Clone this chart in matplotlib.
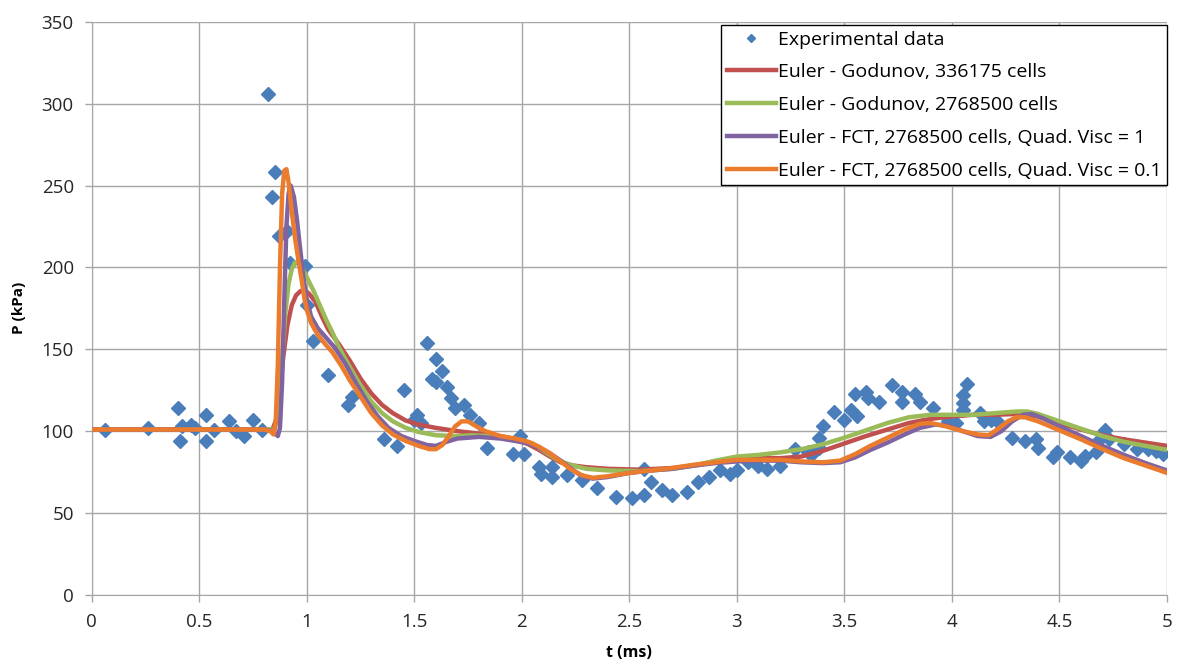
#!/usr/bin/env python3
##
# Pressure history: experiment vs. Euler solvers
##

import matplotlib
matplotlib.use('Agg')
import matplotlib.pyplot as plt

plt.rcParams['font.family'] = ['Open Sans', 'DejaVu Sans']

# experimental points (t in ms, P in kPa)
exp_t = [0.06, 0.26, 0.40, 0.41, 0.42, 0.46, 0.48, 0.53, 0.53, 0.57, 0.64, 0.67,
         0.71, 0.75, 0.79, 0.82, 0.85, 0.84, 0.87, 0.91, 0.92, 0.99, 1.00, 1.03,
         1.10, 1.19, 1.21, 1.36, 1.42, 1.45, 1.50, 1.51, 1.53, 1.56, 1.58, 1.60,
         1.60, 1.63, 1.65, 1.67, 1.69, 1.73, 1.76, 1.80, 1.84, 1.96, 1.99, 2.01,
         2.08, 2.09, 2.14, 2.14, 2.21, 2.28, 2.35, 2.44, 2.51, 2.57, 2.57, 2.60,
         2.65, 2.70, 2.77, 2.82, 2.87, 2.92, 2.97, 3.00, 3.05, 3.10, 3.14, 3.20,
         3.27, 3.33, 3.35, 3.38, 3.38, 3.40, 3.45, 3.50, 3.53, 3.56, 3.55, 3.60,
         3.61, 3.66, 3.72, 3.77, 3.77, 3.83, 3.85, 3.91, 3.98, 4.02, 4.05, 4.05,
         4.07, 4.05, 4.13, 4.15, 4.18, 4.21, 4.28, 4.34, 4.39, 4.40, 4.47, 4.49,
         4.55, 4.60, 4.62, 4.67, 4.69, 4.71, 4.73, 4.80, 4.86, 4.91, 4.95, 4.98]
exp_p = [101, 102, 114, 94, 103, 104, 102, 110, 94, 101, 106, 100,
         97, 107, 101, 306, 258, 243, 219, 222, 203, 201, 177, 155,
         134, 116, 121, 95, 91, 125, 107, 110, 105, 154, 132, 144,
         130, 137, 127, 120, 114, 116, 110, 105, 90, 86, 97, 86,
         78, 74, 78, 72, 73, 70, 65, 60, 59, 61, 77, 69,
         64, 61, 63, 69, 72, 76, 74, 76, 81, 79, 77, 79,
         89, 87, 86, 96, 90, 103, 112, 107, 113, 109, 123, 124,
         120, 118, 128, 124, 118, 123, 118, 114, 106, 105, 113, 122,
         129, 117, 111, 106, 107, 106, 96, 94, 95, 90, 84, 87,
         84, 82, 85, 87, 95, 101, 95, 92, 89, 89, 88, 86]

# Euler - Godunov, 336175 cells
god1_t = [0, 0.5, 0.8, 0.84, 0.86, 0.875, 0.89, 0.91, 0.93, 0.95, 0.97, 0.99,
          1.01, 1.04, 1.07, 1.10, 1.15, 1.2, 1.25, 1.3, 1.35, 1.4, 1.46, 1.52,
          1.6, 1.7, 1.8, 1.9, 1.97, 2.03, 2.08, 2.13, 2.18, 2.24, 2.3, 2.4,
          2.55, 2.7, 2.8, 2.9, 3.0, 3.1, 3.2, 3.3, 3.4, 3.5, 3.6, 3.7,
          3.8, 3.9, 4.0, 4.1, 4.2, 4.3, 4.4, 4.5, 4.6, 4.7, 4.8, 4.9, 5.0]
god1_p = [101, 101, 101, 101, 108, 125, 145, 165, 177, 183, 185.5, 186,
          184, 179, 170, 162, 153, 143, 132, 123, 116, 111, 106.5, 104,
          102, 100, 98.5, 97, 95, 92, 88.5, 84.5, 81, 79, 78, 77,
          76.5, 77.5, 79, 81, 83, 83.5, 83.5, 84.5, 88, 92.5, 97, 101,
          105, 107.5, 109, 110, 110, 110.5, 109, 105, 101, 97.5, 95, 93, 91]

# Euler - Godunov, 2768500 cells
god2_t = [0, 0.5, 0.8, 0.85, 0.87, 0.885, 0.9, 0.915, 0.93, 0.945, 0.96, 0.98,
          1.0, 1.03, 1.06, 1.09, 1.12, 1.15, 1.2, 1.25, 1.3, 1.35, 1.4, 1.46,
          1.52, 1.6, 1.7, 1.77, 1.85, 1.93, 2.0, 2.05, 2.1, 2.16, 2.22, 2.3,
          2.4, 2.55, 2.7, 2.8, 2.9, 3.0, 3.1, 3.2, 3.3, 3.4, 3.5, 3.6,
          3.7, 3.8, 3.9, 4.0, 4.1, 4.2, 4.3, 4.35, 4.4, 4.5, 4.6, 4.7,
          4.8, 4.9, 5.0]
god2_p = [101, 101, 101, 101, 115, 145, 172, 190, 199, 203, 203, 199,
          194, 186, 177, 168, 160, 151, 139, 128, 118, 111, 106, 102,
          99.5, 97.5, 97, 97.5, 97, 96, 94.5, 92.5, 88, 83, 79.5, 77,
          76, 75.6, 77, 79, 82, 84.5, 85.5, 87, 89, 92, 96, 100.5,
          105, 108.5, 110, 110, 110, 111, 112, 112, 110.5, 106, 101.5, 97,
          93.5, 91, 88.6]

# Euler - FCT, 2768500 cells, Quad. Visc = 1
fct1_t = [0, 0.5, 0.8, 0.84, 0.865, 0.875, 0.885, 0.895, 0.905, 0.915, 0.925, 0.94,
          0.955, 0.97, 0.985, 1.0, 1.02, 1.05, 1.09, 1.13, 1.18, 1.23, 1.28, 1.33,
          1.38, 1.44, 1.5, 1.56, 1.6, 1.65, 1.7, 1.8, 1.9, 1.97, 2.03, 2.08,
          2.13, 2.18, 2.23, 2.28, 2.33, 2.4, 2.5, 2.6, 2.7, 2.8, 2.9, 3.0,
          3.1, 3.2, 3.3, 3.4, 3.48, 3.55, 3.62, 3.7, 3.78, 3.85, 3.92, 3.98,
          4.05, 4.12, 4.18, 4.23, 4.28, 4.33, 4.37, 4.42, 4.5, 4.6, 4.7, 4.8,
          4.9, 5.0]
fct1_p = [101, 101, 101, 100, 97, 102, 130, 180, 225, 245, 250, 243,
          228, 210, 193, 180, 170, 163, 157, 151, 141, 129, 118, 109,
          102, 97, 94, 91.5, 91, 93.5, 95.5, 96.5, 95.5, 94, 92.5, 90,
          86.5, 82, 77, 72.5, 71, 72, 74.5, 76, 77, 79, 80.5, 81.5,
          82, 82, 81, 80.5, 81, 84, 88.5, 93, 98, 102, 104, 103.5,
          100, 97, 96.5, 100, 106, 110, 110.5, 108, 103, 97, 91, 85.5,
          80.5, 76]

# Euler - FCT, 2768500 cells, Quad. Visc = 0.1
fct2_t = [0, 0.5, 0.8, 0.83, 0.845, 0.855, 0.865, 0.875, 0.885, 0.895, 0.905, 0.915,
          0.93, 0.945, 0.96, 0.975, 0.99, 1.0, 1.02, 1.05, 1.08, 1.12, 1.16, 1.2,
          1.25, 1.3, 1.35, 1.4, 1.46, 1.52, 1.57, 1.6, 1.63, 1.66, 1.69, 1.72,
          1.75, 1.78, 1.83, 1.9, 1.97, 2.03, 2.08, 2.13, 2.18, 2.23, 2.28, 2.33,
          2.4, 2.5, 2.6, 2.7, 2.8, 2.9, 3.0, 3.1, 3.2, 3.3, 3.4, 3.48,
          3.55, 3.62, 3.7, 3.78, 3.85, 3.9, 3.97, 4.05, 4.12, 4.17, 4.21, 4.26,
          4.3, 4.34, 4.4, 4.5, 4.6, 4.7, 4.8, 4.9, 5.0]
fct2_p = [101, 101, 101, 100, 98, 105, 140, 200, 245, 259, 260, 252,
          234, 218, 205, 193, 180, 174, 166, 159, 154, 148, 140, 131,
          121, 111, 103.5, 98, 94, 91, 89, 89, 91.5, 97, 103, 106,
          106, 103.5, 100, 97, 95.5, 93.5, 90.5, 86.5, 81.5, 76.5, 73, 71.5,
          72.5, 74.5, 76, 77.5, 79.5, 81, 82.5, 82.5, 82.5, 81.5, 81, 82,
          86, 91, 96, 101, 104.5, 105, 103, 100, 98, 97.5, 101, 106,
          108.5, 108.5, 106, 100.5, 95, 89, 83.5, 79, 74.5]

fig = plt.figure(figsize=(11.77, 6.61), dpi=100)
ax = fig.add_axes([0.078, 0.100, 0.9135, 0.867])

ax.plot(exp_t, exp_p, linestyle='none', marker='D', markersize=7.3,
        color='#4A7EBB', label='Experimental data', zorder=2)
ax.plot(god1_t, god1_p, color='#C0504D', lw=3.2, label='Euler - Godunov, 336175 cells', zorder=3)
ax.plot(god2_t, god2_p, color='#9BBB59', lw=3.2, label='Euler - Godunov, 2768500 cells', zorder=3)
ax.plot(fct1_t, fct1_p, color='#8064A2', lw=3.2, label='Euler - FCT, 2768500 cells, Quad. Visc = 1', zorder=3)
ax.plot(fct2_t, fct2_p, color='#EB7B2D', lw=3.2, label='Euler - FCT, 2768500 cells, Quad. Visc = 0.1', zorder=3)

ax.set_xlim(0, 5)
ax.set_ylim(0, 350)
ax.set_xticks([0, 0.5, 1, 1.5, 2, 2.5, 3, 3.5, 4, 4.5, 5])
ax.set_xticklabels(['0', '0.5', '1', '1.5', '2', '2.5', '3', '3.5', '4', '4.5', '5'])
ax.set_yticks(range(0, 351, 50))
ax.grid(True, color='#A6A6A6', lw=1)
ax.set_axisbelow(True)
for s in ['top', 'right']:
    ax.spines[s].set_visible(False)
for s in ['left', 'bottom']:
    ax.spines[s].set_color('#A6A6A6')
ax.tick_params(colors='#A6A6A6', labelcolor='#262626', labelsize=13.5, length=5, width=1)
ax.tick_params(axis='x', pad=8)
ax.tick_params(axis='y', pad=8)

ax.set_xlabel('t (ms)', fontsize=11.5, fontweight='bold', labelpad=10)
ax.set_ylabel('P (kPa)', fontsize=11, fontweight='bold', labelpad=11)

leg = ax.legend(loc='upper right', bbox_to_anchor=(1.0, 0.995), borderaxespad=0,
                fontsize=14, handlelength=2.5, handletextpad=0.1, labelspacing=0.76,
                markerscale=0.6, fancybox=False, framealpha=1, edgecolor='black',
                borderpad=0.3)
leg.get_frame().set_linewidth(1)

fig.savefig('out.png', dpi=100)
